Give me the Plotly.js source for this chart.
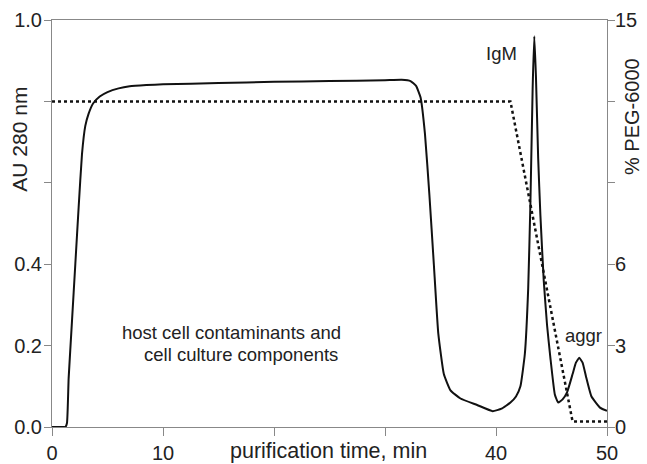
<!DOCTYPE html>
<html>
<head>
<meta charset="utf-8">
<script src="https://cdn.plot.ly/plotly-3.0.1.min.js"></script>
<style>html,body{margin:0;padding:0;background:#fff;}#chart{width:647px;height:464px;}</style>
</head>
<body>
<div id="chart"></div>
<script>
// Absorbance trace (AU 280 nm)
const timeAU = [0, 0.5, 1.0, 1.2, 1.35, 1.5, 1.8, 2.1, 2.4, 2.7, 3.0, 3.3, 3.7, 4.3, 5.0, 6.0, 7.0, 8.5, 10, 15, 20, 25, 30, 31.5, 32.3, 32.8, 33.2, 33.6, 34.0, 34.4, 34.8, 35.3, 35.9, 36.8, 38.3, 39.7, 40.5, 41.3, 41.8, 42.2, 42.6, 42.9, 43.1, 43.3, 43.45, 43.6, 43.8, 44.0, 44.3, 44.6, 44.9, 45.3, 45.6, 46.0, 46.4, 46.9, 47.2, 47.5, 47.8, 48.1, 48.6, 49.4, 50];
const au = [0, 0, 0, 0, 0.01, 0.12, 0.26, 0.40, 0.54, 0.67, 0.74, 0.77, 0.795, 0.812, 0.823, 0.832, 0.837, 0.840, 0.842, 0.845, 0.848, 0.850, 0.852, 0.853, 0.850, 0.838, 0.81, 0.72, 0.57, 0.40, 0.23, 0.13, 0.09, 0.07, 0.054, 0.039, 0.045, 0.06, 0.075, 0.10, 0.18, 0.34, 0.55, 0.83, 0.96, 0.86, 0.66, 0.52, 0.36, 0.25, 0.17, 0.08, 0.06, 0.068, 0.085, 0.13, 0.158, 0.17, 0.158, 0.125, 0.075, 0.047, 0.04];
// PEG-6000 gradient (%)
const timePEG = [0, 41.3, 46.9, 50];
const peg = [12, 12, 0.2, 0.2];
// Axis ticks
const xTicks = [0, 10, 20, 30, 40, 50];
const xTickText = ['0', '10', '', '', '40', '50'];
const yTicks = [0, 0.2, 0.4, 0.6, 0.8, 1.0];
const yTickText = ['0.0', '0.2', '0.4', '', '', '1.0'];
const y2Ticks = [0, 3, 6, 9, 12, 15];
const y2TickText = ['0', '3', '6', '', '', '15'];

const FONT = 'Liberation Sans, Arial, sans-serif';
const AXC = '#888888';
const TXT = '#222222';
const FS = 20;

const traces = [
  {x: timeAU, y: au, type: 'scatter', mode: 'lines', line: {color: '#111', width: 2, shape: 'spline', smoothing: 0.4}, yaxis: 'y', hoverinfo: 'skip'},
  {x: timePEG, y: peg, type: 'scatter', mode: 'lines', line: {color: '#111', width: 2.5, dash: 'dot'}, yaxis: 'y2', hoverinfo: 'skip'}
];

const axisCommon = {
  showgrid: false, zeroline: false, showline: true, linecolor: AXC, linewidth: 1,
  ticks: 'outside', ticklen: 7, tickcolor: AXC, tickwidth: 1,
  tickfont: {family: FONT, size: FS, color: TXT}
};

const layout = {
  width: 647, height: 464,
  margin: {l: 52, r: 40, t: 20, b: 37, pad: 0},
  paper_bgcolor: '#fff', plot_bgcolor: '#fff',
  showlegend: false,
  font: {family: FONT, size: FS, color: TXT},
  xaxis: Object.assign({}, axisCommon, {range: [0, 50], tickvals: xTicks, ticktext: xTickText, mirror: true, ticklen: 8}),
  yaxis: Object.assign({}, axisCommon, {range: [0, 1], tickvals: yTicks, ticktext: yTickText, ticklabelstandoff: -2}),
  yaxis2: Object.assign({}, axisCommon, {range: [0, 15], tickvals: y2Ticks, ticktext: y2TickText, overlaying: 'y', side: 'right', ticklabelstandoff: -4}),
  annotations: [
    {text: 'purification time, min', xref: 'paper', yref: 'paper', x: 0.499, y: -0.059, xanchor: 'center', yanchor: 'middle', showarrow: false, font: {family: FONT, size: 21.5, color: TXT}},
    {text: 'AU 280 nm', xref: 'paper', yref: 'paper', x: -0.058, y: 0.708, xanchor: 'center', yanchor: 'middle', textangle: -90, showarrow: false, font: {family: FONT, size: 21, color: TXT}},
    {text: '% PEG-6000', xref: 'paper', yref: 'paper', x: 1.045, y: 0.764, xanchor: 'center', yanchor: 'middle', textangle: -90, showarrow: false, font: {family: FONT, size: FS, color: TXT}},
    {text: 'IgM', xref: 'x', yref: 'y', x: 40.5, y: 0.917, xanchor: 'center', yanchor: 'middle', showarrow: false, font: {family: FONT, size: 18.5, color: TXT}},
    {text: 'aggr', xref: 'x', yref: 'y', x: 47.9, y: 0.225, xanchor: 'center', yanchor: 'middle', showarrow: false, font: {family: FONT, size: 18.5, color: TXT}},
    {text: 'host cell contaminants and', xref: 'x', yref: 'y', x: 16.13, y: 0.231, xanchor: 'center', yanchor: 'middle', showarrow: false, font: {family: FONT, size: 18.5, color: TXT}},
    {text: 'cell culture components', xref: 'x', yref: 'y', x: 17.03, y: 0.179, xanchor: 'center', yanchor: 'middle', showarrow: false, font: {family: FONT, size: 18.5, color: TXT}}
  ]
};

Plotly.newPlot('chart', traces, layout, {displayModeBar: false, staticPlot: true});
</script>
</body>
</html>
